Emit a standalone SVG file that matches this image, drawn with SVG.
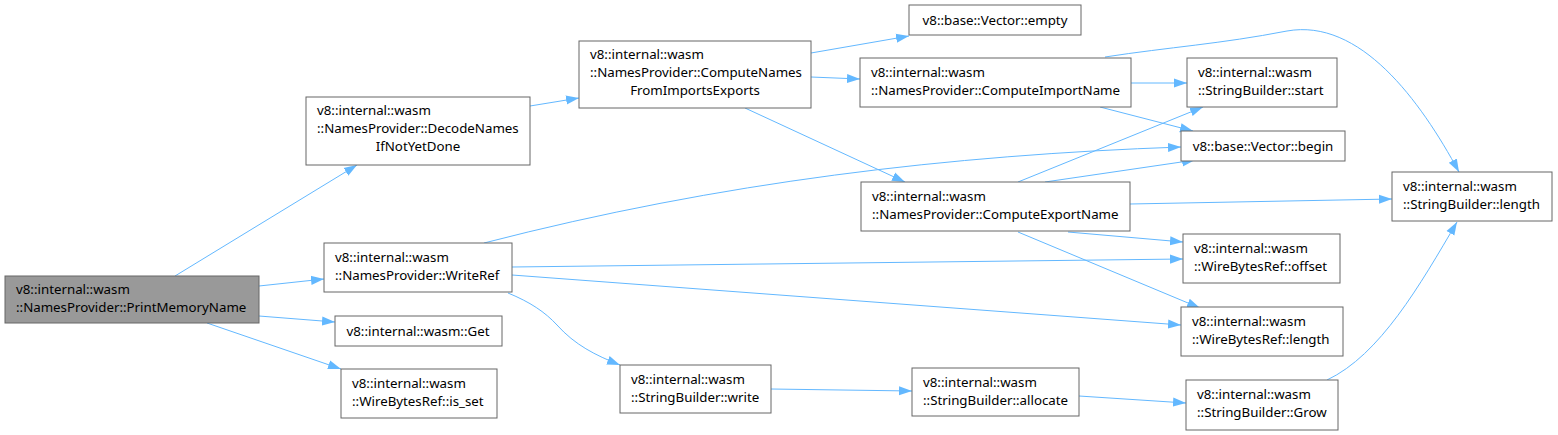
<svg xmlns="http://www.w3.org/2000/svg" width="1558" height="435" viewBox="0 0 1558 435">
<style>
.n rect{fill:#fff;stroke:#666;stroke-width:1}
.n.root rect{fill:#999}
text{font-family:"Noto Sans","DejaVu Sans",sans-serif;font-size:13.3px;fill:#000}
.c{text-anchor:middle}
.e path{fill:none;stroke:#63b8ff;stroke-width:1;marker-end:url(#a)}
</style>
<defs>
<marker id="a" viewBox="0 0 10 10" refX="10" refY="5" markerWidth="13" markerHeight="13" markerUnits="userSpaceOnUse" orient="auto">
<path d="M0,1.5 L10,5 L0,8.5 z" fill="#63b8ff"/>
</marker>
</defs>
<rect width="1558" height="435" fill="#fff"/>
<g id="edges" class="e">
<path d="M175,276 L357,165"/>
<path d="M259,286 L324,279"/>
<path d="M259,316 L335,322"/>
<path d="M207,323 L341,369"/>
<path d="M530,106 L579,98"/>
<path d="M811,53 L909,36"/>
<path d="M811,77 L860,79"/>
<path d="M745,108 L905,182"/>
<path d="M1131,83 L1187,83"/>
<path d="M1100,107 L1193,131"/>
<path d="M1105,57 C1170,47 1220,44 1287,31 C1360,18 1420,100 1459,172"/>
<path d="M1018,182 L1203,107"/>
<path d="M1045,182 L1195,160"/>
<path d="M1130,204 L1392,199"/>
<path d="M1068,232 L1183,242"/>
<path d="M1018,232 L1200,308"/>
<path d="M484,243 C720,182 950,155 1181,147"/>
<path d="M512,267 L1183,259"/>
<path d="M512,275 L1181,325"/>
<path d="M508,293 C530,302 545,312 557,325 C575,345 595,355 620,365"/>
<path d="M771,389 L912,391"/>
<path d="M1079,396 L1186,403"/>
<path d="M1327,380 C1380,355 1420,285 1457,222"/>
</g>
<g id="n1" class="n root"><rect x="5" y="276" width="254" height="47"/><text x="16" y="294">v8::internal::wasm</text><text x="16" y="312">::NamesProvider::PrintMemoryName</text></g>
<g id="n2" class="n"><rect x="306" y="97" width="224" height="68"/><text x="317" y="115">v8::internal::wasm</text><text x="317" y="133">::NamesProvider::DecodeNames</text><text class="c" x="418" y="151">IfNotYetDone</text></g>
<g id="n3" class="n"><rect x="579" y="41" width="232" height="67"/><text x="590" y="59">v8::internal::wasm</text><text x="590" y="77">::NamesProvider::ComputeNames</text><text class="c" x="695" y="95">FromImportsExports</text></g>
<g id="n4" class="n"><rect x="909" y="5" width="172" height="30"/><text class="c" x="995" y="25">v8::base::Vector::empty</text></g>
<g id="n5" class="n"><rect x="860" y="58" width="271" height="49"/><text x="871" y="77">v8::internal::wasm</text><text x="871" y="95">::NamesProvider::ComputeImportName</text></g>
<g id="n6" class="n"><rect x="1187" y="58" width="150" height="49"/><text x="1198" y="77">v8::internal::wasm</text><text x="1198" y="95">::StringBuilder::start</text></g>
<g id="n7" class="n"><rect x="1181" y="131" width="164" height="30"/><text class="c" x="1263" y="151">v8::base::Vector::begin</text></g>
<g id="n8" class="n"><rect x="861" y="182" width="269" height="49"/><text x="872" y="201">v8::internal::wasm</text><text x="872" y="219">::NamesProvider::ComputeExportName</text></g>
<g id="n9" class="n"><rect x="1392" y="172" width="160" height="49"/><text x="1403" y="191">v8::internal::wasm</text><text x="1403" y="209">::StringBuilder::length</text></g>
<g id="n10" class="n"><rect x="1183" y="234" width="157" height="49"/><text x="1194" y="253">v8::internal::wasm</text><text x="1194" y="271">::WireBytesRef::offset</text></g>
<g id="n11" class="n"><rect x="1181" y="307" width="162" height="49"/><text x="1192" y="326">v8::internal::wasm</text><text x="1192" y="344">::WireBytesRef::length</text></g>
<g id="n12" class="n"><rect x="1186" y="380" width="152" height="50"/><text x="1197" y="399">v8::internal::wasm</text><text x="1197" y="417">::StringBuilder::Grow</text></g>
<g id="n13" class="n"><rect x="324" y="243" width="188" height="49"/><text x="335" y="262">v8::internal::wasm</text><text x="335" y="280">::NamesProvider::WriteRef</text></g>
<g id="n14" class="n"><rect x="335" y="316" width="167" height="30"/><text class="c" x="418" y="336">v8::internal::wasm::Get</text></g>
<g id="n15" class="n"><rect x="341" y="369" width="156" height="49"/><text x="352" y="388">v8::internal::wasm</text><text x="352" y="406">::WireBytesRef::is_set</text></g>
<g id="n16" class="n"><rect x="620" y="365" width="151" height="48"/><text x="631" y="384">v8::internal::wasm</text><text x="631" y="402">::StringBuilder::write</text></g>
<g id="n17" class="n"><rect x="912" y="368" width="167" height="48"/><text x="923" y="387">v8::internal::wasm</text><text x="923" y="405">::StringBuilder::allocate</text></g>
</svg>
